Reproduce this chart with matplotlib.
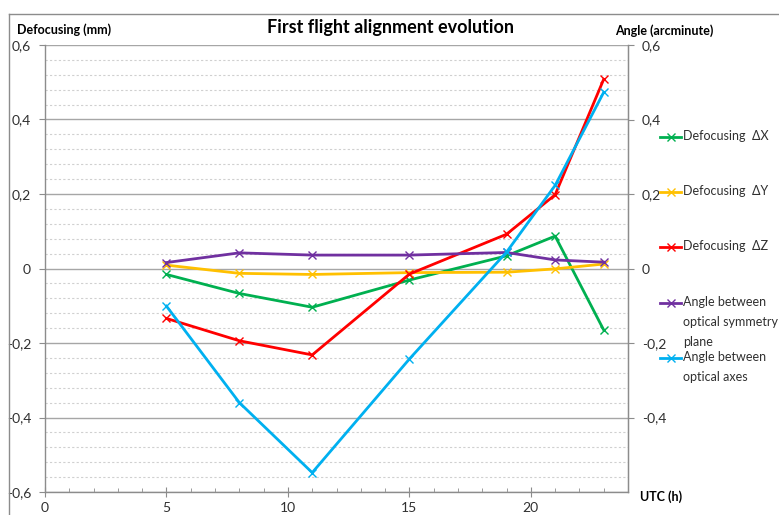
import matplotlib.pyplot as plt
import numpy as np
from matplotlib.ticker import MultipleLocator, FuncFormatter, FixedLocator
from matplotlib.lines import Line2D

plt.rcParams['font.family'] = ['Lato', 'DejaVu Sans']

utc = [5, 8, 11, 15, 19, 21, 23]
dx = [-0.016, -0.067, -0.104, -0.031, 0.034, 0.087, -0.165]
dy = [0.009, -0.013, -0.016, -0.011, -0.010, -0.001, 0.012]
dz = [-0.134, -0.194, -0.232, -0.015, 0.092, 0.198, 0.508]
ang_sym = [0.016, 0.042, 0.036, 0.036, 0.043, 0.023, 0.017]
ang_axes = [-0.101, -0.360, -0.548, -0.243, 0.044, 0.223, 0.473]

names = ['Defocusing  ΔX', 'Defocusing  ΔY', 'Defocusing  ΔZ',
         'Angle between\noptical symmetry\nplane', 'Angle between\noptical axes']
colors = ['#00B050', '#FFC000', '#FF0000', '#7030A0', '#00B0F0']
series = [dx, dy, dz, ang_sym, ang_axes]

fig = plt.figure(figsize=(7.79, 5.15), dpi=100)
ax = fig.add_axes([45/779, 1-492/515, (628-45)/779, (492-45)/515])

ax.set_xlim(0, 24)
ax.set_ylim(-0.6, 0.6)
ax.xaxis.set_major_locator(MultipleLocator(5))
ax.xaxis.set_minor_locator(MultipleLocator(1))
ax.yaxis.set_major_locator(MultipleLocator(0.2))
ax.yaxis.set_minor_locator(MultipleLocator(0.04))

def comma(v, pos):
    if abs(v) < 1e-9:
        return '0'
    return f'{v:.1f}'.replace('.', ',')

ax.yaxis.set_major_formatter(FuncFormatter(comma))
ax.set_xticks([0, 5, 10, 15, 20])

ax.grid(which='major', axis='y', color='#A6A6A6', lw=1.0, zorder=0)
ax.grid(which='minor', axis='y', color='#D0D0D0', lw=0.8, ls=(0, (2, 2)), zorder=0)

ax.spines['top'].set_visible(False)
for sp in ['left', 'right', 'bottom']:
    ax.spines[sp].set_color('#8C8C8C')
    ax.spines[sp].set_linewidth(1.0)

ax.tick_params(axis='x', which='major', direction='inout', length=7, color='#8C8C8C',
               labelsize=10, labelcolor='#303030', pad=4)
ax.tick_params(axis='x', which='minor', direction='in', length=3, color='#8C8C8C')
ax.tick_params(axis='y', which='major', direction='out', length=4, color='#8C8C8C',
               labelsize=10, labelcolor='#303030', pad=6)
ax.tick_params(axis='y', which='minor', length=0)

for vals, c in zip(series, colors):
    ax.plot(utc, vals, color=c, lw=2, marker='x', ms=6, mew=1.0, zorder=3, clip_on=False)

ax2 = ax.twinx()
ax2.set_ylim(-0.6, 0.6)
ax2.yaxis.set_major_locator(FixedLocator([-0.4, -0.2, 0, 0.2, 0.4, 0.6]))
ax2.yaxis.set_major_formatter(FuncFormatter(comma))
ax2.tick_params(axis='y', direction='out', length=4, color='#8C8C8C',
                labelsize=10, labelcolor='#303030', pad=6)
for sp in ['top', 'left', 'bottom']:
    ax2.spines[sp].set_visible(False)
ax2.spines['right'].set_color('#8C8C8C')

fig.text(391/779, 1-28/515, 'First flight alignment evolution', ha='center', va='center',
         fontsize=13, fontweight='bold')
fig.text(17/779, 1-30/515, 'Defocusing (mm)', ha='left', va='center', fontsize=9, fontweight='bold')
fig.text(615/779, 1-31/515, 'Angle (arcminute)', ha='left', va='center', fontsize=9, fontweight='bold')
fig.text(640/779, 1-497/515, 'UTC (h)', ha='left', va='center', fontsize=9, fontweight='bold')

# legend drawn by hand
leg_y = [137, 192, 247, 303, 358]
for name, c, yy in zip(names, colors, leg_y):
    yf = 1 - yy/515
    fig.add_artist(Line2D([660/779, 681/779], [yf, yf], color=c, lw=2,
                          transform=fig.transFigure))
    fig.add_artist(Line2D([670.5/779], [yf], color=c, marker='x', ms=6, mew=1.0,
                          transform=fig.transFigure))
    fig.text(683/779, yf + 7/515, name, ha='left', va='top', fontsize=9,
             color='#303030', linespacing=1.8)

# chart frame
fig.add_artist(Line2D([9/779, 1], [1-14/515, 1-14/515], color='#8C8C8C', lw=1,
                      transform=fig.transFigure))
fig.add_artist(Line2D([9/779, 9/779], [0, 1-14/515], color='#8C8C8C', lw=1,
                      transform=fig.transFigure))

fig.savefig('out.png', dpi=100)
